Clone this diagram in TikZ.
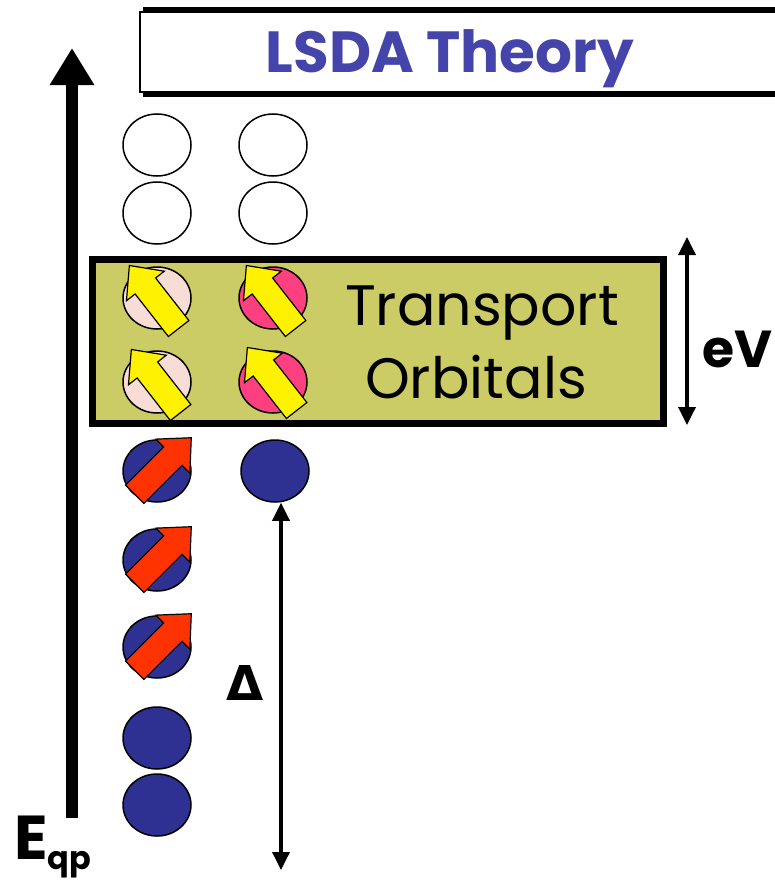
\documentclass[tikz,border=0pt]{standalone}
\usepackage{fontspec}
\setmainfont{Poppins}
\newfontfamily\grkfont{DejaVu Sans}
\usetikzlibrary{arrows.meta,shapes.geometric,positioning}
\definecolor{navy}{HTML}{2E3192}
\definecolor{softpink}{HTML}{F7DDD6}
\definecolor{hotpink}{HTML}{FF4080}
\definecolor{olive}{HTML}{CCCC66}
\definecolor{spinred}{HTML}{FF3300}
\definecolor{titleblue}{HTML}{4444AA}
\tikzset{
  orb/.style={ellipse,draw,line width=1.5pt,minimum width=68pt,minimum height=62pt,inner sep=0pt},
  bigtxt/.style={font=\fontsize{57}{60}\selectfont,anchor=base},
}
\newcommand{\spinarr}[3]{%
\begin{scope}[shift={(#1)},rotate=#2]
\draw[fill=#3,line width=1.2pt,line join=miter](-40,-13)--(14,-13)--(14,-24)--(40,0)--(14,24)--(14,13)--(-40,13)--cycle;
\end{scope}}

\begin{document}
\begin{tikzpicture}[x=1pt,y=-1pt]
\useasboundingbox (0,0) rectangle (774,883);
\fill(143,7) rectangle (800,97);
\draw[fill=white,line width=2pt](140,12) rectangle (800,92);
\node[anchor=base,text=titleblue,font=\fontsize{58}{60}\selectfont\bfseries] (title) at(450,73){LSDA Theory};
\coordinate (ax0) at (72,818);
\coordinate (ax1) at (72,48);
\draw[line width=12pt,-{Triangle[width=42pt,length=37pt]}](ax0)--(ax1);
\node[anchor=base west,inner sep=0pt] (eqp) at(14,859){{\fontsize{62}{62}\selectfont\bfseries E}{\fontsize{32}{32}\selectfont\bfseries\raisebox{-10pt}{qp}}};
\draw[fill=olive,line width=7pt](92,259) rectangle (663,423);
\node[orb,fill=white] (a1) at(157,145){};
\node[orb,fill=white] (a2) at(157,213){};
\node[orb,fill=softpink] (a3) at(157,298){};
\node[orb,fill=softpink] (a4) at(157,382){};
\node[orb,fill=navy] (a5) at(157,471){};
\node[orb,fill=navy] (a6) at(157,560){};
\node[orb,fill=navy] (a7) at(157,647){};
\node[orb,fill=navy] (a8) at(157,738){};
\node[orb,fill=navy] (a9) at(157,805){};
\node[orb,fill=white] (b1) at(273,145){};
\node[orb,fill=white] (b2) at(273,213){};
\node[orb,fill=hotpink] (b3) at(273,298){};
\node[orb,fill=hotpink] (b4) at(273,382){};
\node[orb,fill=navy] (b5) at(275,471){};
\spinarr{154,297}{128}{yellow}
\spinarr{156,381}{128}{yellow}
\spinarr{271,297}{128}{yellow}
\spinarr{272,379}{128}{yellow}
\spinarr{163,466}{45}{spinred}
\spinarr{163,555}{45}{spinred}
\spinarr{163,642}{45}{spinred}
\node[bigtxt] (tr) at(482,325){Transport};
\node[bigtxt] (orbit) at(476,398){Orbitals};
\coordinate (ev0) at (687,237);
\coordinate (ev1) at (687,425);
\draw[line width=3.5pt,{Triangle[width=17pt,length=18pt]}-{Triangle[width=17pt,length=18pt]}](ev0)--(ev1);
\node[anchor=base west,inner sep=0pt,font=\fontsize{52}{60}\selectfont\bfseries] (ev) at(702,367){eV};
\coordinate (dbot) at (281,870);
\draw[line width=3.5pt,{Triangle[width=17pt,length=18pt]}-{Triangle[width=17pt,length=18pt]}](dbot|-b5.south)--(dbot);
\node[anchor=base,font=\fontsize{48}{50}\selectfont\grkfont\bfseries] (gap) at(245,700){Δ};
\end{tikzpicture}
\end{document}
